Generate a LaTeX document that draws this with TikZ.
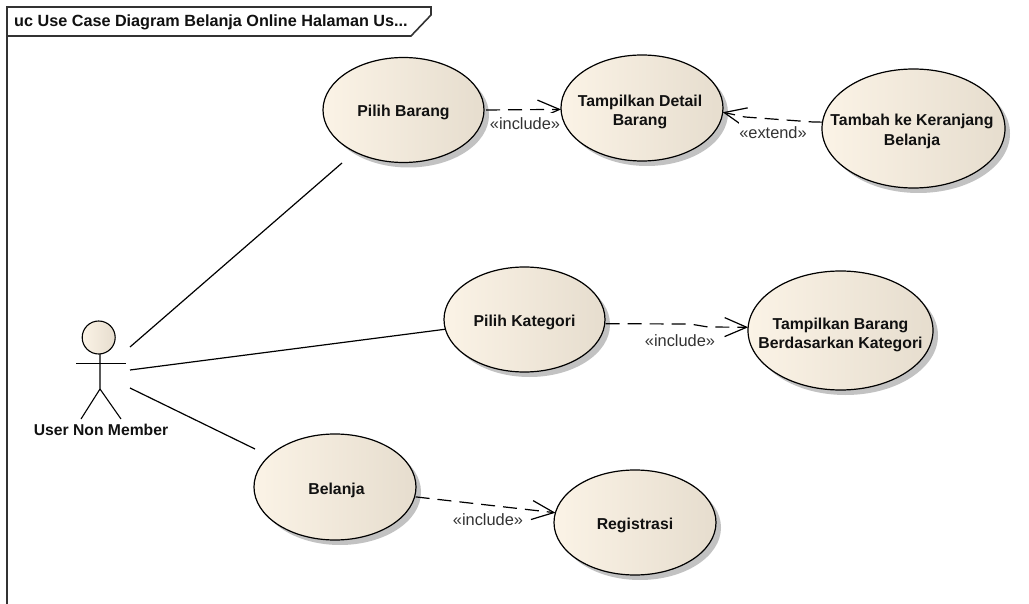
\documentclass[tikz,border=0pt]{standalone}
\usepackage{fontspec}
\setmainfont{Liberation Sans}
\usetikzlibrary{shapes.geometric,shadows,arrows.meta}
\definecolor{ucl}{HTML}{FBF3E6}
\definecolor{ucm}{HTML}{F6EEE1}
\definecolor{ucr}{HTML}{E6DDCE}
\definecolor{inkc}{HTML}{111111}
\definecolor{framec}{HTML}{333333}
\definecolor{shadowc}{HTML}{C2C2C2}
\tikzset{
  x=1pt,y=-1pt,
  uc/.style={ellipse,draw=black,line width=1.2pt,inner sep=0pt,outer sep=0pt,
    left color=ucl,middle color=ucm,right color=ucr,
    drop shadow={shadow xshift=5pt,shadow yshift=-5pt,fill=shadowc,opacity=1}},
  uctext/.style={inner sep=0pt,align=center,text=inkc,yshift=-3pt,
    font=\fontsize{15.8}{19.6}\selectfont\bfseries},
  assoc/.style={draw=black,line width=1.2pt},
  dep/.style={draw=black,line width=1.2pt,dash pattern=on 14pt off 8pt,
    -{Straight Barb[length=22pt,width=19pt,line width=1.2pt]}},
  stereo/.style={fill=white,inner sep=0pt,minimum height=21pt,text=framec,
    font=\fontsize{16.4}{19}\selectfont},
  boldtext/.style={inner sep=0pt,text=inkc,font=\fontsize{15.7}{19.6}\selectfont\bfseries},
  actorline/.style={draw=black,line width=1.1pt},
  framel/.style={draw=framec,line width=1.6pt}
}
\begin{document}
\begin{tikzpicture}
\useasboundingbox (0,0) rectangle (1029,604);
\fill[white] (0,0) rectangle (1029,604);
% frame
\draw[framel] (7,604) -- (7,7) -- (431,7) -- (431,15) -- (411,36) -- (7,36);
\node[boldtext,anchor=west,font=\fontsize{16.2}{19.6}\selectfont\bfseries] (title) at (14,22) {uc Use Case Diagram Belanja Online Halaman Us...};
% actor
\node[circle,draw=black,line width=1.1pt,inner sep=0pt,minimum size=33pt,
  left color=ucl,right color=ucr] (head) at (98.7,337.5) {};
\coordinate (neck) at (100,354);
\coordinate (hip) at (100,389);
\coordinate (armL) at (76,363.5);
\coordinate (armR) at (126,363.5);
\coordinate (legL) at (81,419);
\coordinate (legR) at (121,419);
\draw[actorline] (neck) -- (hip) -- (legL);
\draw[actorline] (hip) -- (legR);
\draw[actorline] (armL) -- (armR);
\node[boldtext] (actor) at (101,430) {User Non Member};
% use cases
\node[uc,minimum width=161pt,minimum height=105pt] (pb) at (403.5,110) {};
\node[uc,minimum width=162pt,minimum height=106pt] (td) at (642,108) {};
\node[uc,minimum width=183pt,minimum height=119pt] (tk) at (913.5,128.5) {};
\node[uc,minimum width=161pt,minimum height=105pt] (pk) at (524.5,319.5) {};
\node[uc,minimum width=185pt,minimum height=119pt] (tb) at (840.5,330.5) {};
\node[uc,minimum width=162pt,minimum height=106pt] (bl) at (335,487) {};
\node[uc,minimum width=162pt,minimum height=105pt] (rg) at (635,522.5) {};
\node[uctext,yshift=1pt] (pbt) at (pb.center) {Pilih Barang};
\node[uctext,xshift=-2pt,yshift=-1pt] (tdt) at (td.center) {Tampilkan Detail\\Barang};
\node[uctext,xshift=-1.5pt] (tkt) at (tk.center) {Tambah ke Keranjang\\Belanja};
\node[uctext] (pkt) at (pk.center) {Pilih Kategori};
\node[uctext,yshift=-1.5pt] (tbt) at (tb.center) {Tampilkan Barang\\Berdasarkan Kategori};
\node[uctext,xshift=1.5pt] (blt) at (bl.center) {Belanja};
\node[uctext] (rgt) at (rg.center) {Registrasi};
% associations
\coordinate (a1) at (130,347);
\coordinate (a2) at (130,370);
\coordinate (a3) at (130,388);
\coordinate (pbgap) at (342,163);
\coordinate (blgap) at (255,449);
\draw[assoc] (a1) -- (pbgap);
\draw[assoc] (a2) -- (pk.187);
\draw[assoc] (a3) -- (blgap);
% dependencies
\draw[dep,shorten <=2pt] (pb.east) -- (td.181);
\coordinate (e1) at (813,122);
\coordinate (e2) at (745,117);
\draw[dep] (tk.176) -- (e1) -- (e2) -- (td.-3.5);
\coordinate (k1) at (690,324);
\coordinate (k2) at (708,327);
\draw[dep,shorten <=1pt] (pk.-3) -- (k1) -- (k2) -- (tb.178);
\draw[dep,shorten <=1pt] (bl.-7.5) -- (rg.173);
% stereotypes
\node[stereo] (l1) at (525,124) {«include»};
\node[stereo] (l2) at (773,133) {«extend»};
\node[stereo] (l3) at (680,341) {«include»};
\node[stereo] (l4) at (488,520) {«include»};
\end{tikzpicture}
\end{document}
